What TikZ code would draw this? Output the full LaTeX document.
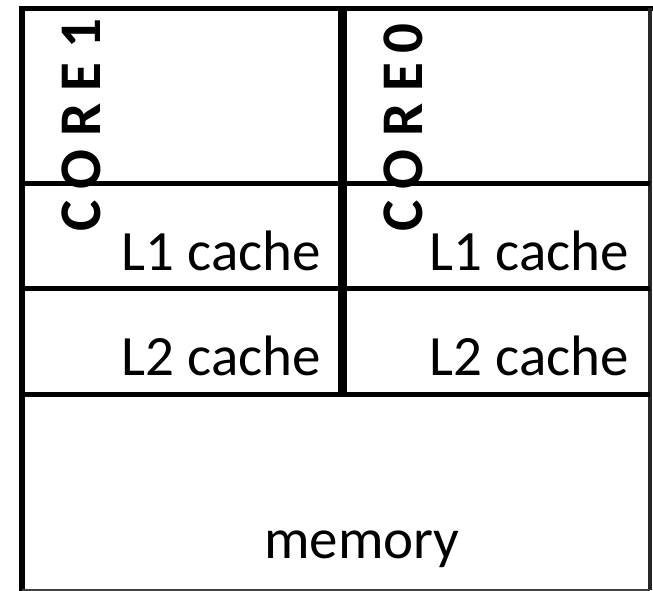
\documentclass[tikz,border=0pt]{standalone}
\usepackage{fontspec}
\setmainfont{Carlito}
\begin{document}
\begin{tikzpicture}[x=1pt,y=-1pt,
  frame/.style={line width=5.5pt,line cap=rect},
  divider/.style={line width=9pt},
  celltext/.style={font=\fontsize{57}{62}\selectfont,inner sep=0pt},
  corechar/.style={font=\fontsize{59}{64}\selectfont\bfseries,inner sep=0pt,rotate=90,anchor=base}]
\useasboundingbox (0,0) rectangle (653,591);

% key coordinates of the layout
\coordinate (tl) at (22,8.5);
\coordinate (tr) at (650,8.5);
\coordinate (bl) at (22,590);
\coordinate (br) at (650,590);
\coordinate (mt) at (342,8.5);
\coordinate (mb) at (342,394.5);
\coordinate (l1l) at (22,183.5);
\coordinate (l1r) at (650,183.5);
\coordinate (l2l) at (22,288.5);
\coordinate (l2r) at (650,288.5);
\coordinate (meml) at (22,394.5);
\coordinate (memr) at (650,394.5);

% outer frame
\draw[frame] (bl) -- (tl) -- (tr);
\draw[line width=4pt,color=black!85] (tr) -- (br);
\draw[line width=2pt,color=black!75] (bl) -- (br);

% horizontal separators between levels
\draw[line width=5pt] (l1l) -- (l1r);
\draw[line width=5pt] (l2l) -- (l2r);
\draw[line width=5.5pt] (meml) -- (memr);

% split between the two cores
\draw[divider] (mt) -- (mb);

% cache labels
\node[celltext,anchor=base east] (l1a) at (321,270) {L1 cache};
\node[celltext,anchor=base east] (l1b) at (629,270) {L1 cache};
\node[celltext,anchor=base east] (l2a) at (321,375) {L2 cache};
\node[celltext,anchor=base east] (l2b) at (629,375) {L2 cache};
\node[celltext,anchor=base] (mem) at (362,558) {memory};

% core labels, one rotated letter each
\node[corechar] (c1c) at (100,216) {C};
\node[corechar] (c1o) at (100,170) {O};
\node[corechar] (c1r) at (100,120) {R};
\node[corechar] (c1e) at (100,77) {E};
\node[corechar] (c1n) at (100,34) {1};

\node[corechar] (c0c) at (422,216) {C};
\node[corechar] (c0o) at (422,170) {O};
\node[corechar] (c0r) at (422,120) {R};
\node[corechar] (c0e) at (422,77) {E};
\node[corechar] (c0n) at (422,39) {0};
\end{tikzpicture}
\end{document}
